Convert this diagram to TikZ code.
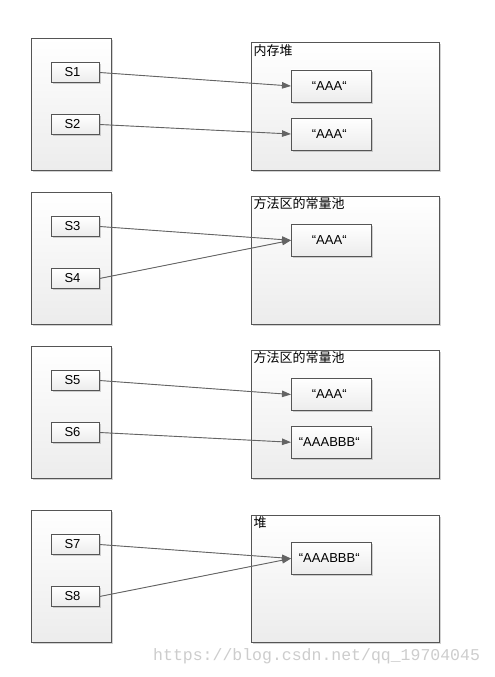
\documentclass[tikz,border=0pt]{standalone}
\usepackage{fontspec}
\setmainfont{Liberation Sans}
\newfontfamily\cjkfont{Noto Sans CJK SC}
\newfontfamily\wmfont{Liberation Mono}
\usetikzlibrary{shadows,arrows.meta}
\definecolor{bordercol}{RGB}{85,85,85}
\definecolor{arrowcol}{RGB}{100,100,100}
\definecolor{shadecol}{RGB}{236,236,236}
\definecolor{wmcol}{RGB}{205,205,205}
\tikzset{
  panel/.style={draw=bordercol, line width=0.9pt, top color=white, bottom color=shadecol,
    drop shadow={shadow xshift=1.6pt, shadow yshift=-1.6pt, opacity=0.35, fill=gray},
    inner sep=0pt, outer sep=0pt},
  varbox/.style={panel, minimum width=48pt, minimum height=20pt, font=\fontsize{13}{14}\selectfont},
  strbox/.style={panel, minimum width=80.5pt, minimum height=32pt, font=\fontsize{13}{14}\selectfont},
  title/.style={anchor=north west, inner sep=0pt, font=\cjkfont\fontsize{13}{14}\selectfont},
  arr/.style={draw=arrowcol, line width=0.9pt, -{Triangle[length=9pt,width=6.5pt]}, fill=arrowcol},
}
\newcommand{\lft}[1]{\kern-6pt#1}
\begin{document}
\begin{tikzpicture}[x=1pt,y=-1pt]
\useasboundingbox[fill=white] (0,0) rectangle (495,677);
% group 1
\node[panel, minimum width=80pt, minimum height=132pt] (L1) at (71.5,104.5) {};
\node[panel, minimum width=188pt, minimum height=128pt] (R1) at (345.5,106.5) {};
\node[title] (T1) at (253.5,44) {内存堆};
\node[varbox] (S1) at (75.5,72.5) {\lft{S1}};
\node[varbox] (S2) at (75.5,124.5) {\lft{S2}};
\node[strbox] (A1) at (331.25,86) {\kern-4pt“AAA“};
\node[strbox] (A2) at (331.25,134) {\kern-4pt“AAA“};
\draw[arr] (S1.east) -- (A1.west);
\draw[arr] (S2.east) -- (A2.west);
% group 2
\node[panel, minimum width=80pt, minimum height=132pt] (L2) at (71.5,258.5) {};
\node[panel, minimum width=188pt, minimum height=128.5pt] (R2) at (345.5,260.25) {};
\node[title] (T2) at (253.5,197.5) {方法区的常量池};
\node[varbox] (S3) at (75.5,226.5) {\lft{S3}};
\node[varbox] (S4) at (75.5,278.5) {\lft{S4}};
\node[strbox] (A3) at (331.25,240.25) {\kern-4pt“AAA“};
\draw[arr] (S3.east) -- (A3.west);
\draw[arr] (S4.east) -- (A3.west);
% group 3
\node[panel, minimum width=80pt, minimum height=132pt] (L3) at (71.5,412.5) {};
\node[panel, minimum width=188pt, minimum height=128.5pt] (R3) at (345.5,414.25) {};
\node[title] (T3) at (253.5,351.5) {方法区的常量池};
\node[varbox] (S5) at (75.5,380.5) {\lft{S5}};
\node[varbox] (S6) at (75.5,432.5) {\lft{S6}};
\node[strbox] (A4) at (331.25,394.5) {\kern-4pt“AAA“};
\node[strbox] (A5) at (331.25,442.25) {\kern-4pt“AAABBB“};
\draw[arr] (S5.east) -- (A4.west);
\draw[arr] (S6.east) -- (A5.west);
% group 4
\node[panel, minimum width=80pt, minimum height=132pt] (L4) at (71.5,576.5) {};
\node[panel, minimum width=188pt, minimum height=127.5pt] (R4) at (345.5,578.75) {};
\node[title] (T4) at (253.5,516.5) {堆};
\node[varbox] (S7) at (75.5,544.5) {\lft{S7}};
\node[varbox] (S8) at (75.5,596.5) {\lft{S8}};
\node[strbox] (A6) at (331.25,558.5) {\kern-4pt“AAABBB“};
\draw[arr] (S7.east) -- (A6.west);
\draw[arr] (S8.east) -- (A6.west);
% watermark
\node[anchor=base west, inner sep=0pt, text=wmcol, font=\wmfont\fontsize{16.5}{18}\selectfont] (WM) at (153,660) {https://blog.csdn.net/qq\_19704045};
\end{tikzpicture}
\end{document}
